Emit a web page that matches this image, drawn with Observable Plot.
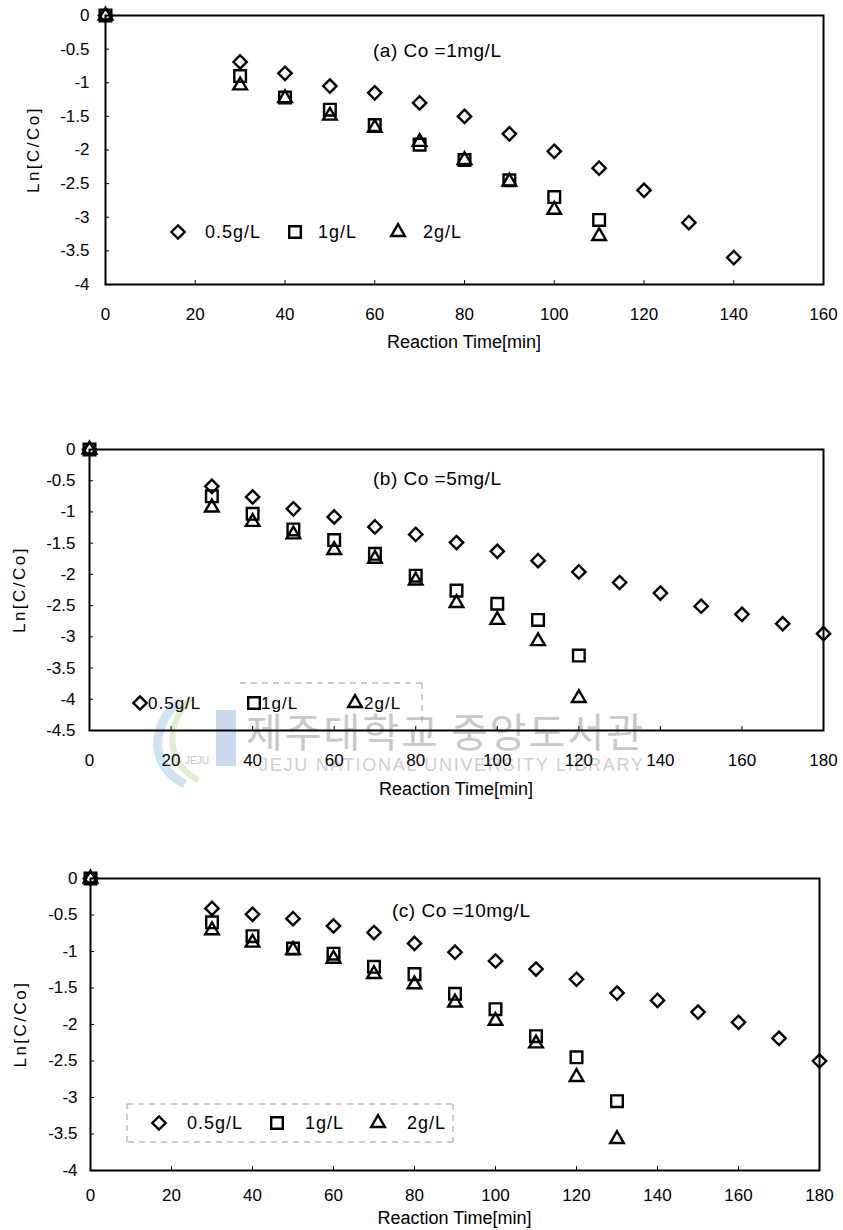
<!DOCTYPE html>
<html><head><meta charset="utf-8">
<script src="https://cdn.jsdelivr.net/npm/d3@7"></script>
<script src="https://cdn.jsdelivr.net/npm/@observablehq/plot@0.6"></script>
<style>
body{margin:0;background:#fff;}
#wrap{position:relative;width:843px;height:1230px;overflow:hidden;background:#fff;}
#wrap > svg{position:absolute;left:0;}
#wm{position:absolute;left:0;top:0;}
</style></head><body><div id="wrap"></div>
<script>
// ---------- data ----------
const doseLabels = ["0.5g/L", "1g/L", "2g/L"];
const xTitle = "Reaction Time[min]";
const yTitle = "Ln[C/Co]";

// (a) Co = 1 mg/L
const annA = "(a) Co =1mg/L";
const tA05 = [0, 30, 40, 50, 60, 70, 80, 90, 100, 110, 120, 130, 140];
const vA05 = [0, -0.69, -0.86, -1.05, -1.15, -1.30, -1.50, -1.76, -2.02, -2.27, -2.60, -3.08, -3.60];
const tA1 = [0, 30, 40, 50, 60, 70, 80, 90, 100, 110];
const vA1 = [0, -0.90, -1.22, -1.40, -1.63, -1.92, -2.15, -2.45, -2.70, -3.04];
const tA2 = [0, 30, 40, 50, 60, 70, 80, 90, 100, 110];
const vA2 = [0, -1.04, -1.23, -1.49, -1.67, -1.88, -2.15, -2.47, -2.89, -3.28];
const xTicksA = [0, 20, 40, 60, 80, 100, 120, 140, 160];
const yTicksA = [0, -0.5, -1, -1.5, -2, -2.5, -3, -3.5, -4];

// (b) Co = 5 mg/L
const annB = "(b) Co =5mg/L";
const tB05 = [0, 30, 40, 50, 60, 70, 80, 90, 100, 110, 120, 130, 140, 150, 160, 170, 180];
const vB05 = [0, -0.59, -0.76, -0.95, -1.08, -1.24, -1.36, -1.49, -1.63, -1.78, -1.96, -2.13, -2.30, -2.51, -2.64, -2.79, -2.95];
const tB1 = [0, 30, 40, 50, 60, 70, 80, 90, 100, 110, 120];
const vB1 = [0, -0.75, -1.03, -1.28, -1.45, -1.67, -2.02, -2.26, -2.47, -2.73, -3.30];
const tB2 = [0, 30, 40, 50, 60, 70, 80, 90, 100, 110, 120];
const vB2 = [0, -0.93, -1.16, -1.36, -1.61, -1.75, -2.10, -2.46, -2.73, -3.07, -3.98];
const xTicksB = [0, 20, 40, 60, 80, 100, 120, 140, 160, 180];
const yTicksB = [0, -0.5, -1, -1.5, -2, -2.5, -3, -3.5, -4, -4.5];

// (c) Co = 10 mg/L
const annC = "(c) Co =10mg/L";
const tC05 = [0, 30, 40, 50, 60, 70, 80, 90, 100, 110, 120, 130, 140, 150, 160, 170, 180];
const vC05 = [0, -0.41, -0.49, -0.55, -0.65, -0.74, -0.89, -1.01, -1.13, -1.24, -1.38, -1.57, -1.67, -1.83, -1.97, -2.19, -2.50];
const tC1 = [0, 30, 40, 50, 60, 70, 80, 90, 100, 110, 120, 130];
const vC1 = [0, -0.60, -0.79, -0.96, -1.03, -1.21, -1.31, -1.58, -1.79, -2.16, -2.45, -3.05];
const tC2 = [0, 30, 40, 50, 60, 70, 80, 90, 100, 110, 120, 130];
const vC2 = [0, -0.71, -0.88, -0.98, -1.10, -1.31, -1.45, -1.70, -1.95, -2.26, -2.72, -3.57];
const xTicksC = [0, 20, 40, 60, 80, 100, 120, 140, 160, 180];
const yTicksC = [0, -0.5, -1, -1.5, -2, -2.5, -3, -3.5, -4];

// ---------- styling ----------
const FONT = '"Liberation Sans", Arial, Helvetica, sans-serif';
const SYM = [
  {name: "diamond2", d3sym: d3.symbolDiamond2, r: 6},
  {name: "square2", d3sym: d3.symbolSquare2, r: 7.4},
  {name: "triangle2", d3sym: d3.symbolTriangle2, r: 6.5}
];
const SW = 2.4;

const rows = (t, v) => t.map((x, i) => ({t: x, v: v[i]}));

function decor(p) {
  return () => {
    const g = d3.create("svg:g").attr("font-family", FONT).attr("fill", "black").attr("text-anchor", "start");
    const L = p.ml, T = p.mt, B = p.H - p.mb, R = 843 - p.mr;
    // annotation
    g.append("text").attr("x", L + p.ann.dx).attr("y", T + p.ann.dy).attr("dy", "0.35em")
      .attr("font-size", 19).attr("letter-spacing", "0.5px").text(p.ann.text);
    // titles
    g.append("text").attr("x", (L + R) / 2).attr("y", B + p.xTitleDy).attr("dy", "0.35em")
      .attr("text-anchor", "middle").attr("font-size", 18).text(xTitle);
    g.append("text").attr("transform", `translate(${p.yTitleX},${(T + B) / 2}) rotate(-90)`)
      .attr("dy", "0.35em").attr("text-anchor", "middle").attr("font-size", 17)
      .attr("letter-spacing", "2.5px").text(yTitle);
    // legend box
    if (p.box) {
      const bx = g.append("g").attr("stroke", "#999").attr("stroke-width", 1)
        .attr("stroke-dasharray", "6,5").attr("fill", "none");
      p.box.forEach(s => bx.append("line").attr("x1", L + s[0]).attr("y1", T + s[1]).attr("x2", L + s[2]).attr("y2", T + s[3]));
    }
    // legend items
    p.leg.items.forEach((it, i) => {
      const s = SYM[i];
      g.append("path")
        .attr("d", d3.symbol(s.d3sym, s.r * s.r * Math.PI)())
        .attr("transform", `translate(${L + it[0]},${T + p.leg.dy})`)
        .attr("fill", "none").attr("stroke", "black").attr("stroke-width", SW);
      g.append("text").attr("x", L + it[1]).attr("y", T + p.leg.dy).attr("dy", "0.35em")
        .attr("font-size", p.leg.fs).attr("letter-spacing", "1px").text(doseLabels[i]);
    });
    return g.node();
  };
}

function panel(p) {
  const series = [rows(p.t[0], p.v[0]), rows(p.t[1], p.v[1]), rows(p.t[2], p.v[2])];
  const svg = Plot.plot({
    width: 843, height: p.H,
    marginTop: p.mt, marginBottom: p.mb, marginLeft: p.ml, marginRight: p.mr,
    style: {background: "transparent", fontFamily: FONT, fontSize: "17px", color: "black", overflow: "visible"},
    x: {domain: [0, p.xMax], axis: null},
    y: {domain: [p.yMin, 0], axis: null},
    marks: [
      Plot.axisX({ticks: p.xTicks, anchor: "bottom", tickSize: 4, dy: -4, tickPadding: p.xPad, tickFormat: d => String(d), label: null}),
      Plot.axisY({ticks: p.yTicks, anchor: "left", tickSize: 4, dx: 4, tickPadding: p.yPad, tickFormat: d => String(d), label: null}),
      Plot.frame({stroke: "black", strokeWidth: 2}),
      ...series.map((d, i) => Plot.dot(d, {x: "t", y: "v", symbol: SYM[i].name, r: SYM[i].r, stroke: "black", strokeWidth: SW, fill: "none"})),
      decor(p)
    ]
  });
  svg.style.top = p.top + "px";
  svg.style.zIndex = 2;
  document.getElementById("wrap").appendChild(svg);
}

// watermark (library stamp in the scan)
const wm = d3.create("svg").attr("id", "wm").attr("width", 843).attr("height", 1230).style("z-index", 1);
const wg = wm.append("g").attr("opacity", 0.55);
wg.append("path").attr("d", "M178,702 C150,727 150,767 185,784").attr("fill", "none").attr("stroke", "#a9cde6").attr("stroke-width", 9);
wg.append("path").attr("d", "M192,697 C165,724 165,762 198,780").attr("fill", "none").attr("stroke", "#c9e0a8").attr("stroke-width", 6);
wg.append("rect").attr("x", 216).attr("y", 710).attr("width", 20).attr("height", 56).attr("fill", "#9fbfe3");
wg.append("text").attr("x", 197).attr("y", 764).attr("text-anchor", "middle").attr("font-family", FONT).attr("font-size", 10).attr("fill", "#8a9bb0").text("JEJU");
wm.append("text").attr("x", 246).attr("y", 747).attr("font-family", '"Noto Sans CJK KR", sans-serif')
  .attr("font-size", 40).attr("fill", "#c8c8c8").attr("textLength", 397).text("제주대학교 중앙도서관");
wm.append("text").attr("x", 259).attr("y", 771).attr("font-family", FONT)
  .attr("font-size", 18).attr("fill", "#cfcfcf").attr("textLength", 384).text("JEJU NATIONAL UNIVERSITY LIBRARY");
document.getElementById("wrap").appendChild(wm.node());

panel({
  top: 0, H: 370, mt: 15, mb: 86, ml: 105, mr: 20,
  xMax: 160, yMin: -4, xTicks: xTicksA, yTicks: yTicksA, xPad: 23, yPad: 16,
  t: [tA05, tA1, tA2], v: [vA05, vA1, vA2],
  ann: {text: annA, dx: 268, dy: 35},
  xTitleDy: 58, yTitleX: 33,
  leg: {dy: 217, fs: 18, items: [[73, 100], [190, 213], [293, 318]]},
  box: null
});
panel({
  top: 400, H: 410, mt: 49, mb: 80, ml: 89, mr: 20,
  xMax: 180, yMin: -4.5, xTicks: xTicksB, yTicks: yTicksB, xPad: 23, yPad: 14,
  t: [tB05, tB1, tB2], v: [vB05, vB1, vB2],
  ann: {text: annB, dx: 284, dy: 29},
  xTitleDy: 59, yTitleX: 19,
  leg: {dy: 254, fs: 17, items: [[51, 59], [165, 172], [266, 275]]},
  box: [[151, 234, 333, 234], [333, 234, 333, 278]]
});
panel({
  top: 840, H: 390, mt: 38, mb: 60, ml: 90, mr: 24,
  xMax: 180, yMin: -4, xTicks: xTicksC, yTicks: yTicksC, xPad: 18, yPad: 13,
  t: [tC05, tC1, tC2], v: [vC05, vC1, vC2],
  ann: {text: annC, dx: 302, dy: 32},
  xTitleDy: 48, yTitleX: 20,
  leg: {dy: 245, fs: 18, items: [[69, 97], [187, 215], [288, 317]]},
  box: [[37, 226, 363, 226], [363, 226, 363, 264], [363, 264, 37, 264], [37, 264, 37, 226]]
});
</script></body></html>
